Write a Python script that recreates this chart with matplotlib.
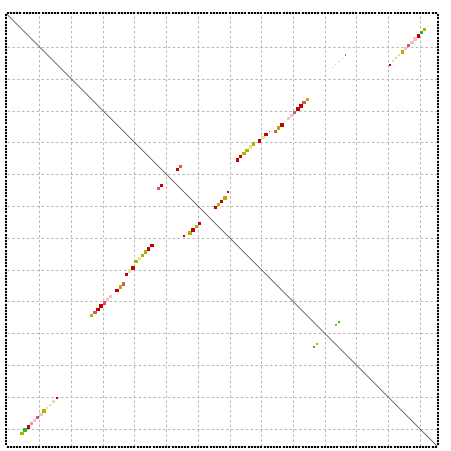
"""Residue contact dot plot (anti-diagonal hits) on a square grid."""

import numpy as np
import matplotlib

matplotlib.use("Agg")
import matplotlib.pyplot as plt

N = 135

# column index, row index, colour class, size class for every filled cell
cols = [
    4, 5, 6, 7, 8, 9, 10, 11, 12, 13, 14, 15,
    26, 27, 28, 29, 30, 31, 32, 34, 35, 36, 37, 38, 39, 40, 41, 42, 43, 44, 45,
    47, 48, 53, 54,
    55, 57, 58, 59, 60, 65, 66, 67, 68, 69,
    72, 73, 74, 75, 76, 77, 79, 80, 81, 82, 84, 85, 86, 88, 89, 90, 91, 92, 93, 94,
    120, 121, 122, 123, 124, 125, 126, 127, 128, 129, 130, 131, 132,
    102, 103, 104, 105, 106,
    103, 104, 96, 97,
]
rows = [
    131, 130, 129, 128, 127, 126, 125, 124, 123, 122, 121, 120,
    94, 93, 92, 91, 90, 89, 88, 86, 85, 84, 81, 80, 79, 77, 76, 75, 74, 73, 72,
    54, 53, 48, 47,
    69, 68, 67, 66, 65, 60, 59, 58, 57, 55,
    45, 44, 43, 42, 41, 40, 39, 38, 37, 36, 36, 35, 34, 32, 31, 30, 29, 28, 27, 26,
    15, 14, 13, 12, 11, 10, 9, 8, 7, 6, 5, 4, 3,
    16, 15, 14, 13, 12,
    97, 96, 104, 103,
]
kinds = list(
    "YGRpqrqYyqyR"
    "YrRRrqqRYrRyRYyYYRR"
    "rRRr"
    "RYRYRRYRYR"
    "RRYYyYRyRRrYRqqrRRrY"
    "RyqyYqrqqRGYq"
    "qqyqG"
    "YGGY"
)
sizes = list(
    "LLLLLLLLSSLS"
    "LLLLLLLLLLLLLLLLLLL"
    "LLLL"
    "SLLLLLLLLS"
    "LLLLLLLLLTLLLLLLLLLL"
    "SSSSLLLLLLLLT"
    "TTTTT"
    "SSSS"
)

palette = {
    "R": "#c40000",
    "r": "#d55a5e",
    "p": "#e8979b",
    "q": "#f3c3c6",
    "Y": "#b3b000",
    "y": "#e4e38e",
    "G": "#1fc01f",
}
marker_area = {"L": 6.0, "S": 2.0, "T": 0.6}

fig = plt.figure(figsize=(4.52, 4.51), dpi=100)
ax = fig.add_axes([6.7 / 452, 5.3 / 451, 430 / 452, 431.7 / 451])

x = np.array(cols) + 0.5
y = np.array(rows) + 0.5
ax.scatter(
    x, y,
    s=[marker_area[k] for k in sizes],
    c=[palette[k] for k in kinds],
    marker="s", linewidths=0, zorder=3,
)

ax.plot([0, 1], [1, 0], transform=ax.transAxes, color="#555555", lw=0.6, zorder=2)

ax.set_xlim(-0.3, 135.3)
ax.set_ylim(135.4, -0.4)
ax.set_xticks(np.arange(10, N, 10))
ax.set_yticks(np.arange(10, N, 10))
ax.set_xticks(np.arange(0, N + 1), minor=True)
ax.set_yticks(np.arange(0, N + 1), minor=True)
ax.tick_params(which="both", direction="out", length=1.6, width=1.6, color="black",
               top=True, right=True, labelbottom=False, labelleft=False)
ax.grid(True, which="major", color="#b4b4b4", linestyle=(0, (2.5, 2.5)), lw=0.7)
for spine in ax.spines.values():
    spine.set_visible(False)

fig.savefig("out.png", dpi=100)
